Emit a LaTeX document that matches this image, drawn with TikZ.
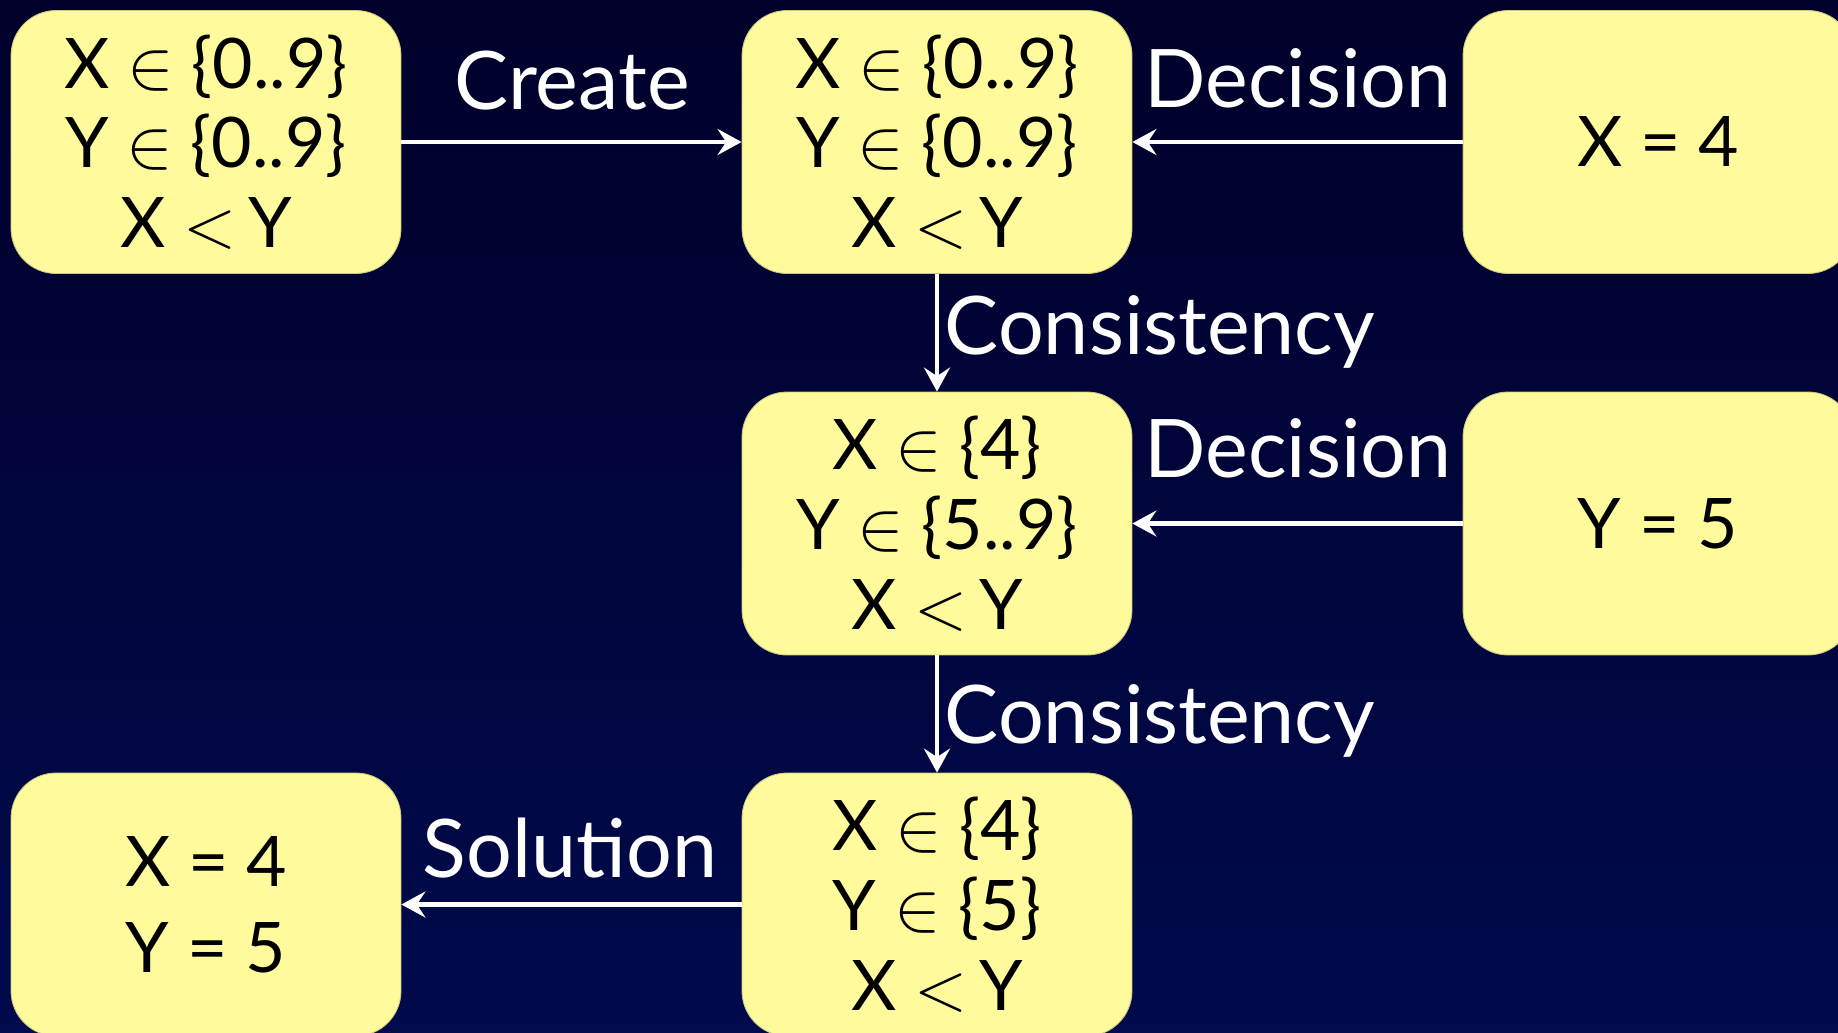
\RequirePackage{fix-cm}
\documentclass[tikz,border=0pt]{standalone}
\usepackage{fontspec}
\setmainfont{Lato}
\usetikzlibrary{arrows.meta}
\definecolor{boxyellow}{RGB}{255,250,155}
\definecolor{boxedge}{RGB}{205,200,130}
\definecolor{bgtop}{RGB}{0,0,42}
\definecolor{bgbot}{RGB}{0,10,76}
\newcommand{\xlty}{X $<$\,Y}
\begin{document}
\begin{tikzpicture}[x=0.02cm,y=-0.02cm,
  box/.style={draw=boxedge, line width=0.5pt, fill=boxyellow, rounded corners=0.9cm,
    minimum width=7.8cm, minimum height=5.26cm, align=center, text=black, inner sep=0pt,
    font=\fontsize{39.7}{45.4}\selectfont},
  lbl/.style={text=white, font=\fontsize{46}{50}\selectfont, anchor=base, inner sep=0pt},
  conn/.style={draw=white, line width=2.3pt, -{Stealth[length=0.48cm,width=0.52cm,inset=0.17cm]}}]
\useasboundingbox (0,0) rectangle (1838,1032);
\shade[top color=bgtop, bottom color=bgbot] (0,0) rectangle (1838,1032);
\clip (0,0) rectangle (1838,1032);
\node[box] (a) at (206,142) {X $\in$ \{0..9\}\\Y $\in$ \{0..9\}\\\xlty};
\node[box] (b) at (937,142) {X $\in$ \{0..9\}\\Y $\in$ \{0..9\}\\\xlty};
\node[box] (c) at (1658,142) {X = 4};
\node[box] (d) at (937,523.5) {X $\in$ \{4\}\\Y $\in$ \{5..9\}\\\xlty};
\node[box] (e) at (1658,523.5) {Y = 5};
\node[box, font=\fontsize{39.7}{48.8}\selectfont] (f) at (206,904.5) {X = 4\\Y = 5};
\node[box] (g) at (937,904.5) {X $\in$ \{4\}\\Y $\in$ \{5\}\\\xlty};
\draw[conn] (a) -- (b);
\draw[conn] (c) -- (b);
\draw[conn] (b) -- (d);
\draw[conn] (e) -- (d);
\draw[conn] (d) -- (g);
\draw[conn] (g) -- (f);
\node[lbl] (lcreate) at (572,109) {Create};
\node[lbl] (ldec1) at (1298,107) {Decision};
\node[lbl] (lcons1) at (1160,354) {Consistency};
\node[lbl] (ldec2) at (1298,477) {Decision};
\node[lbl] (lcons2) at (1160,743) {Consistency};
\node[lbl] (lsol) at (570,877) {Solution};
\end{tikzpicture}
\end{document}
